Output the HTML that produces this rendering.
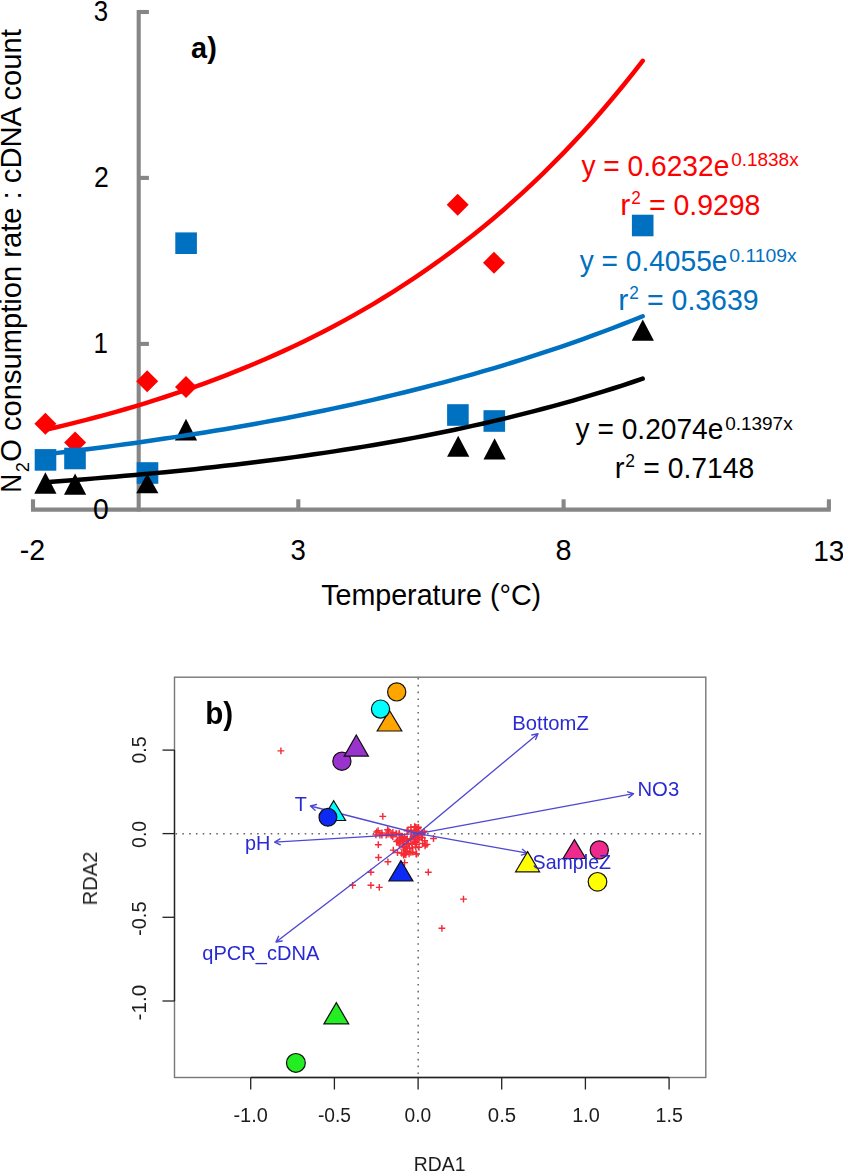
<!DOCTYPE html>
<html><head><meta charset="utf-8"><title>Figure</title>
<style>html,body{margin:0;padding:0;background:#fff;}svg{display:block}</style></head>
<body><svg width="843" height="1171" viewBox="0 0 843 1171" style='font-family:"Liberation Sans", sans-serif'>
<defs><filter id="soft" x="-5%" y="-5%" width="110%" height="110%"><feGaussianBlur stdDeviation="0.45"/></filter></defs>
<rect width="843" height="1171" fill="#fff"/>
<g stroke="#868686" stroke-width="4.1" fill="none" stroke-linecap="butt">
<line x1="138.7" y1="10" x2="138.7" y2="511.6"/>
<line x1="31" y1="509.6" x2="830.8" y2="509.6"/>
<line x1="138.7" y1="12.0" x2="148.9" y2="12.0"/>
<line x1="138.7" y1="177.9" x2="148.9" y2="177.9"/>
<line x1="138.7" y1="343.9" x2="148.9" y2="343.9"/>
<line x1="33.0" y1="509.6" x2="33.0" y2="499.3"/>
<line x1="298.3" y1="509.6" x2="298.3" y2="499.3"/>
<line x1="563.6" y1="509.6" x2="563.6" y2="499.3"/>
<line x1="828.9" y1="509.6" x2="828.9" y2="499.3"/>
</g>
<g fill="#FF0000">
<path d="M45.4 412.7L56.4 423.7L45.4 434.7L34.4 423.7Z"/>
<path d="M75.1 431.6L86.1 442.6L75.1 453.6L64.1 442.6Z"/>
<path d="M147.2 370.3L158.2 381.3L147.2 392.3L136.2 381.3Z"/>
<path d="M186.0 375.9L197.0 386.9L186.0 397.9L175.0 386.9Z"/>
<path d="M457.7 193.8L468.7 204.8L457.7 215.8L446.7 204.8Z"/>
<path d="M494.0 251.7L505.0 262.7L494.0 273.7L483.0 262.7Z"/>
</g>
<g fill="#0070C0">
<rect x="34.7" y="449.1" width="21.6" height="21.6"/>
<rect x="64.2" y="447.7" width="21.6" height="21.6"/>
<rect x="136.7" y="462.2" width="21.6" height="21.6"/>
<rect x="175.3" y="232.4" width="21.6" height="21.6"/>
<rect x="447.1" y="404.2" width="21.6" height="21.6"/>
<rect x="483.5" y="410.2" width="21.6" height="21.6"/>
<rect x="631.9" y="214.7" width="21.6" height="21.6"/>
</g>
<g fill="#000000">
<path d="M45.4 472.3L56.5 493.7L34.3 493.7Z"/>
<path d="M75.1 473.5L86.2 494.7L64.0 494.7Z"/>
<path d="M147.3 473.4L158.4 493.3L136.2 493.3Z"/>
<path d="M186.0 418.8L197.1 440.4L174.9 440.4Z"/>
<path d="M458.2 435.7L469.3 456.7L447.1 456.7Z"/>
<path d="M494.6 438.2L505.7 459.5L483.5 459.5Z"/>
<path d="M642.8 319.4L653.9 340.7L631.7 340.7Z"/>
</g>
<g fill="none" stroke-width="4.5" stroke-linecap="round" stroke-linejoin="round">
<path stroke="#FF0000" d="M45.40 429.81L55.36 427.49L65.31 425.10L75.27 422.64L85.22 420.11L95.18 417.51L105.13 414.83L115.09 412.07L125.04 409.23L135.00 406.30L144.95 403.29L154.91 400.19L164.86 397.00L174.82 393.72L184.77 390.34L194.73 386.87L204.68 383.29L214.64 379.60L224.59 375.81L234.55 371.91L244.50 367.89L254.46 363.75L264.41 359.49L274.37 355.11L284.32 350.60L294.28 345.96L304.23 341.18L314.19 336.26L324.14 331.20L334.09 325.99L344.05 320.63L354.01 315.10L363.96 309.42L373.92 303.57L383.87 297.55L393.83 291.35L403.78 284.97L413.74 278.41L423.69 271.65L433.65 264.69L443.60 257.53L453.56 250.16L463.51 242.58L473.46 234.77L483.42 226.73L493.38 218.46L503.33 209.94L513.29 201.18L523.24 192.16L533.20 182.87L543.15 173.31L553.11 163.47L563.06 153.35L573.02 142.92L582.97 132.19L592.93 121.15L602.88 109.78L612.84 98.08L622.79 86.04L632.75 73.64L642.70 60.88"/>
<path stroke="#0070C0" d="M45.40 454.28L55.36 453.12L65.31 451.93L75.27 450.72L85.22 449.48L95.18 448.22L105.13 446.93L115.09 445.62L125.04 444.27L135.00 442.90L144.95 441.50L154.91 440.07L164.86 438.60L174.82 437.11L184.77 435.59L194.73 434.03L204.68 432.44L214.64 430.81L224.59 429.16L234.55 427.46L244.50 425.73L254.46 423.97L264.41 422.16L274.37 420.32L284.32 418.44L294.28 416.52L304.23 414.56L314.19 412.56L324.14 410.51L334.09 408.42L344.05 406.29L354.01 404.11L363.96 401.89L373.92 399.61L383.87 397.29L393.83 394.93L403.78 392.51L413.74 390.04L423.69 387.51L433.65 384.94L443.60 382.30L453.56 379.62L463.51 376.87L473.46 374.07L483.42 371.21L493.38 368.29L503.33 365.30L513.29 362.25L523.24 359.14L533.20 355.96L543.15 352.72L553.11 349.40L563.06 346.02L573.02 342.56L582.97 339.03L592.93 335.43L602.88 331.75L612.84 327.99L622.79 324.15L632.75 320.23L642.70 316.22"/>
<path stroke="#000000" d="M45.40 482.15L55.36 481.43L65.31 480.70L75.27 479.94L85.22 479.16L95.18 478.37L105.13 477.55L115.09 476.71L125.04 475.85L135.00 474.97L144.95 474.06L154.91 473.12L164.86 472.17L174.82 471.18L184.77 470.18L194.73 469.14L204.68 468.08L214.64 466.98L224.59 465.86L234.55 464.71L244.50 463.53L254.46 462.32L264.41 461.07L274.37 459.79L284.32 458.48L294.28 457.13L304.23 455.74L314.19 454.32L324.14 452.86L334.09 451.37L344.05 449.83L354.01 448.25L363.96 446.63L373.92 444.96L383.87 443.25L393.83 441.50L403.78 439.70L413.74 437.85L423.69 435.95L433.65 434.00L443.60 432.00L453.56 429.94L463.51 427.83L473.46 425.67L483.42 423.44L493.38 421.16L503.33 418.82L513.29 416.41L523.24 413.94L533.20 411.40L543.15 408.80L553.11 406.12L563.06 403.38L573.02 400.56L582.97 397.67L592.93 394.69L602.88 391.64L612.84 388.51L622.79 385.30L632.75 382.00L642.70 378.61"/>
</g>
<g filter="url(#soft)">
<rect x="174.5" y="677.2" width="531.3" height="400.3" fill="none" stroke="#777" stroke-width="1.4"/>
<g stroke="#222" stroke-width="1.3" fill="none">
<line x1="250.7" y1="1077.5" x2="669.1" y2="1077.5"/>
<line x1="174.5" y1="750.1" x2="174.5" y2="1001"/>
<line x1="250.7" y1="1077.5" x2="250.7" y2="1089.5"/>
<line x1="334.4" y1="1077.5" x2="334.4" y2="1089.5"/>
<line x1="418.1" y1="1077.5" x2="418.1" y2="1089.5"/>
<line x1="501.7" y1="1077.5" x2="501.7" y2="1089.5"/>
<line x1="585.4" y1="1077.5" x2="585.4" y2="1089.5"/>
<line x1="669.1" y1="1077.5" x2="669.1" y2="1089.5"/>
<line x1="174.5" y1="750.1" x2="162.5" y2="750.1"/>
<line x1="174.5" y1="833.6" x2="162.5" y2="833.6"/>
<line x1="174.5" y1="917.3" x2="162.5" y2="917.3"/>
<line x1="174.5" y1="1001.0" x2="162.5" y2="1001.0"/>
</g>
<g stroke="#666" stroke-width="1.5" fill="none" stroke-dasharray="1.6 5.2">
<line x1="175.5" y1="833.8" x2="705.5" y2="833.8"/>
<line x1="418.2" y1="678" x2="418.2" y2="1077"/>
</g>
<g stroke="#F42A36" stroke-width="1.4" fill="none">
<path d="M277.5 750.9H284.3M280.9 747.5V754.3"/>
<path d="M379.4 816.4H386.2M382.8 813.0V819.8"/>
<path d="M367.5 872.2H374.3M370.9 868.8V875.6"/>
<path d="M349.2 885.3H356.0M352.6 881.9V888.7"/>
<path d="M367.5 885.3H374.3M370.9 881.9V888.7"/>
<path d="M375.9 887.4H382.7M379.3 884.0V890.8"/>
<path d="M424.9 872.2H431.7M428.3 868.8V875.6"/>
<path d="M460.1 899.1H466.9M463.5 895.7V902.5"/>
<path d="M438.5 928.3H445.3M441.9 924.9V931.7"/>
<path d="M384.5 861.8H391.3M387.9 858.4V865.2"/>
<path d="M375.1 857.5H381.9M378.5 854.1V860.9"/>
<path d="M374.9 844.7H381.7M378.3 841.3V848.1"/>
<path d="M430.1 838.5H436.9M433.5 835.1V841.9"/>
<path d="M413.2 854.0H420.0M416.6 850.6V857.4"/>
<path d="M401.2 862.6H408.0M404.6 859.2V866.0"/>
<path d="M400.2 855.0H407.0M403.6 851.6V858.4"/>
<path d="M374.7 830.7H381.5M378.1 827.3V834.1"/>
<path d="M372.5 834.9H379.3M375.9 831.5V838.3"/>
<path d="M378.5 833.0H385.3M381.9 829.6V836.4"/>
<path d="M384.2 829.7H391.0M387.6 826.3V833.1"/>
<path d="M384.6 834.0H391.4M388.0 830.6V837.4"/>
<path d="M388.9 834.9H395.7M392.3 831.5V838.3"/>
<path d="M393.2 834.0H400.0M396.6 830.6V837.4"/>
<path d="M396.0 834.5H402.8M399.4 831.1V837.9"/>
<path d="M389.4 836.8H396.2M392.8 833.4V840.2"/>
<path d="M389.9 850.1H396.7M393.3 846.7V853.5"/>
<path d="M393.2 841.6H400.0M396.6 838.2V845.0"/>
<path d="M396.0 843.5H402.8M399.4 840.1V846.9"/>
<path d="M399.8 841.6H406.6M403.2 838.2V845.0"/>
<path d="M394.1 852.5H400.9M397.5 849.1V855.9"/>
<path d="M400.8 854.4H407.6M404.2 851.0V857.8"/>
<path d="M404.6 843.5H411.4M408.0 840.1V846.9"/>
<path d="M404.6 830.2H411.4M408.0 826.8V833.6"/>
<path d="M397.4 837.8H404.2M400.8 834.4V841.2"/>
<path d="M402.6 851.0H409.4M406.0 847.6V854.4"/>
<path d="M407.5 827.3H414.3M410.9 823.9V830.7"/>
<path d="M415.1 827.3H421.9M418.5 823.9V830.7"/>
<path d="M410.8 830.2H417.6M414.2 826.8V833.6"/>
<path d="M403.7 830.7H410.5M407.1 827.3V834.1"/>
<path d="M414.6 834.9H421.4M418.0 831.5V838.3"/>
<path d="M418.0 837.3H424.8M421.4 833.9V840.7"/>
<path d="M415.6 839.7H422.4M419.0 836.3V843.1"/>
<path d="M412.3 841.6H419.1M415.7 838.2V845.0"/>
<path d="M408.5 843.5H415.3M411.9 840.1V846.9"/>
<path d="M406.1 848.2H412.9M409.5 844.8V851.6"/>
<path d="M401.3 853.9H408.1M404.7 850.5V857.3"/>
<path d="M412.7 853.9H419.5M416.1 850.5V857.3"/>
<path d="M421.7 845.8H428.5M425.1 842.4V849.2"/>
<path d="M423.6 844.4H430.4M427.0 841.0V847.8"/>
<path d="M419.4 843.5H426.2M422.8 840.1V846.9"/>
<path d="M415.6 847.3H422.4M419.0 843.9V850.7"/>
<path d="M421.3 840.6H428.1M424.7 837.2V844.0"/>
<path d="M399.4 841.6H406.2M402.8 838.2V845.0"/>
<path d="M399.0 836.4H405.8M402.4 833.0V839.8"/>
<path d="M403.7 838.7H410.5M407.1 835.3V842.1"/>
<path d="M409.9 837.3H416.7M413.3 833.9V840.7"/>
<path d="M418.9 833.0H425.7M422.3 829.6V836.4"/>
<path d="M422.1 844.6H428.9M425.5 841.2V848.0"/>
<path d="M396.1 845.1H402.9M399.5 841.7V848.5"/>
<path d="M401.4 847.3H408.2M404.8 843.9V850.7"/>
<path d="M411.6 827.4H418.4M415.0 824.0V830.8"/>
<path d="M412.2 830.6H419.0M415.6 827.2V834.0"/>
<path d="M407.5 852.4H414.3M410.9 849.0V855.8"/>
<path d="M413.5 827.4H420.3M416.9 824.0V830.8"/>
<path d="M402.4 854.6H409.2M405.8 851.2V858.0"/>
<path d="M411.7 836.1H418.5M415.1 832.7V839.5"/>
<path d="M406.9 839.3H413.7M410.3 835.9V842.7"/>
<path d="M400.6 846.6H407.4M404.0 843.2V850.0"/>
<path d="M413.5 831.0H420.3M416.9 827.6V834.4"/>
<path d="M415.2 832.8H422.0M418.6 829.4V836.2"/>
<path d="M398.4 853.4H405.2M401.8 850.0V856.8"/>
<path d="M411.2 826.7H418.0M414.6 823.3V830.1"/>
<path d="M415.3 837.2H422.1M418.7 833.8V840.6"/>
<path d="M394.5 840.1H401.3M397.9 836.7V843.5"/>
<path d="M411.0 830.8H417.8M414.4 827.4V834.2"/>
<path d="M405.0 844.2H411.8M408.4 840.8V847.6"/>
<path d="M412.4 847.0H419.2M415.8 843.6V850.4"/>
<path d="M409.0 847.9H415.8M412.4 844.5V851.3"/>
<path d="M403.8 851.7H410.6M407.2 848.3V855.1"/>
<path d="M403.2 846.5H410.0M406.6 843.1V849.9"/>
<path d="M411.9 827.2H418.7M415.3 823.8V830.6"/>
<path d="M411.7 842.3H418.5M415.1 838.9V845.7"/>
<path d="M413.8 838.0H420.6M417.2 834.6V841.4"/>
<path d="M396.6 841.9H403.4M400.0 838.5V845.3"/>
<path d="M410.3 836.8H417.1M413.7 833.4V840.2"/>
<path d="M401.2 836.6H408.0M404.6 833.2V840.0"/>
<path d="M401.4 847.0H408.2M404.8 843.6V850.4"/>
<path d="M398.6 839.0H405.4M402.0 835.6V842.4"/>
<path d="M409.4 852.2H416.2M412.8 848.8V855.6"/>
<path d="M418.8 833.8H425.6M422.2 830.4V837.2"/>
<path d="M394.1 841.1H400.9M397.5 837.7V844.5"/>
<path d="M414.5 828.8H421.3M417.9 825.4V832.2"/>
<path d="M399.5 837.3H406.3M402.9 833.9V840.7"/>
<path d="M420.8 831.3H427.6M424.2 827.9V834.7"/>
<path d="M400.1 849.1H406.9M403.5 845.7V852.5"/>
<path d="M407.8 832.1H414.6M411.2 828.7V835.5"/>
<path d="M418.9 837.8H425.7M422.3 834.4V841.2"/>
<path d="M418.4 835.0H425.2M421.8 831.6V838.4"/>
<path d="M400.5 840.4H407.3M403.9 837.0V843.8"/>
<path d="M403.4 840.2H410.2M406.8 836.8V843.6"/>
<path d="M413.1 844.2H419.9M416.5 840.8V847.6"/>
<path d="M398.2 837.6H405.0M401.6 834.2V841.0"/>
<path d="M410.1 835.6H416.9M413.5 832.2V839.0"/>
<path d="M413.1 844.4H419.9M416.5 841.0V847.8"/>
<path d="M411.1 837.6H417.9M414.5 834.2V841.0"/>
<path d="M405.7 853.9H412.5M409.1 850.5V857.3"/>
<path d="M373.3 832.0H380.1M376.7 828.6V835.4"/>
<path d="M376.5 835.1H383.3M379.9 831.7V838.5"/>
<path d="M378.5 835.0H385.3M381.9 831.6V838.4"/>
<path d="M382.8 835.0H389.6M386.2 831.6V838.4"/>
<path d="M385.4 831.0H392.2M388.8 827.6V834.4"/>
<path d="M387.9 835.3H394.7M391.3 831.9V838.7"/>
<path d="M389.5 832.4H396.3M392.9 829.0V835.8"/>
<path d="M392.7 833.6H399.5M396.1 830.2V837.0"/>
<path d="M395.8 833.4H402.6M399.2 830.0V836.8"/>
</g>
<g stroke="#4e48d2" stroke-width="1.35" fill="none" stroke-linecap="round" stroke-linejoin="round">
<path d="M418.2 833.6L310.4 806.0M315.1 810.2L310.4 806.0L316.5 804.5"/>
<path d="M418.2 833.6L274.6 842.2M280.3 844.8L274.6 842.2L280.0 838.9"/>
<path d="M418.2 833.6L276.0 942.0M282.2 941.0L276.0 942.0L278.6 936.3"/>
<path d="M418.2 833.6L538.0 733.7M531.8 735.0L538.0 733.7L535.6 739.5"/>
<path d="M418.2 833.6L633.6 793.7M627.6 791.8L633.6 793.7L628.7 797.6"/>
<path d="M418.2 833.6L527.4 853.2M522.4 849.3L527.4 853.2L521.4 855.1"/>
</g>
<g stroke="#111" stroke-width="1.2" stroke-linejoin="miter">
<circle cx="396.7" cy="691.9" r="9.1" fill="#FFA500"/>
<path d="M389.5 710.5L401.8 731.0L377.2 731.0Z" fill="#FFA500"/>
<circle cx="380.5" cy="709.1" r="9.1" fill="#00FFFF"/>
<circle cx="341.9" cy="761.2" r="9.1" fill="#9A32CD"/>
<path d="M356.3 735.0L368.4 756.1L344.2 756.1Z" fill="#9A32CD"/>
<path d="M333.7 800.7L345.6 820.5L321.8 820.5Z" fill="#00FFFF"/>
<circle cx="327.9" cy="817.3" r="8.9" fill="#0A2AF5"/>
<path d="M400.9 860.6L412.9 881.0L388.9 881.0Z" fill="#0A2AF5"/>
<path d="M527.6 851.6L539.6 871.8L515.6 871.8Z" fill="#FFFF00"/>
<path d="M574.4 839.6L585.7 858.5L563.1 858.5Z" fill="#EE2A8C"/>
<circle cx="599.3" cy="849.9" r="9.1" fill="#EE2A8C"/>
<circle cx="597.5" cy="881.8" r="9.3" fill="#FFFF00"/>
<path d="M336.3 1002.6L348.7 1023.9L323.9 1023.9Z" fill="#22EE22"/>
<circle cx="295.9" cy="1062.9" r="9.4" fill="#22EE22"/>
</g>
<text x="205.23" y="724.00" font-weight="bold" font-size="31.5" textLength="27.94" lengthAdjust="spacingAndGlyphs" fill="#000000">b)</text>
<text transform="translate(145.90,763.48) rotate(-90)" font-size="20" textLength="26.86" lengthAdjust="spacingAndGlyphs" fill="#1e1e1e">0.5</text>
<text transform="translate(145.90,847.88) rotate(-90)" font-size="20" textLength="27.03" lengthAdjust="spacingAndGlyphs" fill="#1e1e1e">0.0</text>
<text transform="translate(145.90,935.96) rotate(-90)" font-size="20" textLength="34.49" lengthAdjust="spacingAndGlyphs" fill="#1e1e1e">-0.5</text>
<text transform="translate(145.90,1020.38) rotate(-90)" font-size="20" textLength="35.53" lengthAdjust="spacingAndGlyphs" fill="#1e1e1e">-1.0</text>
<text transform="translate(97.00,905.32) rotate(-90)" font-size="20" textLength="53.56" lengthAdjust="spacingAndGlyphs" fill="#1e1e1e">RDA2</text>
<text x="233.47" y="1122.40" font-size="20" textLength="34.34" lengthAdjust="spacingAndGlyphs" fill="#1e1e1e">-1.0</text>
<text x="317.90" y="1122.40" font-size="20" textLength="33.10" lengthAdjust="spacingAndGlyphs" fill="#1e1e1e">-0.5</text>
<text x="404.57" y="1122.40" font-size="20" textLength="26.65" lengthAdjust="spacingAndGlyphs" fill="#1e1e1e">0.0</text>
<text x="487.83" y="1122.40" font-size="20" textLength="28.34" lengthAdjust="spacingAndGlyphs" fill="#1e1e1e">0.5</text>
<text x="572.29" y="1122.40" font-size="20" textLength="27.64" lengthAdjust="spacingAndGlyphs" fill="#1e1e1e">1.0</text>
<text x="655.55" y="1122.40" font-size="20" textLength="27.33" lengthAdjust="spacingAndGlyphs" fill="#1e1e1e">1.5</text>
<text x="413.85" y="1170.70" font-size="20" textLength="51.66" lengthAdjust="spacingAndGlyphs" fill="#1e1e1e">RDA1</text>
<text x="294.80" y="811.30" font-size="20.4" textLength="12.10" lengthAdjust="spacingAndGlyphs" fill="#2a2ad2">T</text>
<text x="245.03" y="849.60" font-size="20.4" textLength="25.34" lengthAdjust="spacingAndGlyphs" fill="#2a2ad2">pH</text>
<text x="202.35" y="959.70" font-size="20.4" textLength="117.01" lengthAdjust="spacingAndGlyphs" fill="#2a2ad2">qPCR_cDNA</text>
<text x="512.34" y="730.40" font-size="20.4" textLength="76.41" lengthAdjust="spacingAndGlyphs" fill="#2a2ad2">BottomZ</text>
<text x="637.48" y="796.00" font-size="20.4" textLength="41.70" lengthAdjust="spacingAndGlyphs" fill="#2a2ad2">NO3</text>
<text x="532.55" y="868.50" font-size="20.4" textLength="78.47" lengthAdjust="spacingAndGlyphs" fill="#2a2ad2">SampleZ</text>
</g>
<text x="93.67" y="21.00" font-size="29.5" textLength="14.39" lengthAdjust="spacingAndGlyphs" fill="#000000">3</text>
<text x="93.89" y="186.90" font-size="29.5" textLength="14.82" lengthAdjust="spacingAndGlyphs" fill="#000000">2</text>
<text x="93.50" y="353.10" font-size="29.5" textLength="14.44" lengthAdjust="spacingAndGlyphs" fill="#000000">1</text>
<text x="92.95" y="518.80" font-size="29.5" textLength="15.76" lengthAdjust="spacingAndGlyphs" fill="#000000">0</text>
<text x="19.74" y="560.40" font-size="29.5" textLength="25.36" lengthAdjust="spacingAndGlyphs" fill="#000000">-2</text>
<text x="290.58" y="560.20" font-size="29.5" textLength="15.34" lengthAdjust="spacingAndGlyphs" fill="#000000">3</text>
<text x="555.51" y="560.40" font-size="29.5" textLength="16.06" lengthAdjust="spacingAndGlyphs" fill="#000000">8</text>
<text x="813.20" y="560.50" font-size="29.5" textLength="31.20" lengthAdjust="spacingAndGlyphs" fill="#000000">13</text>
<text x="321.13" y="605.30" font-size="29.5" textLength="220.05" lengthAdjust="spacingAndGlyphs" fill="#000000">Temperature (°C)</text>
<text transform="translate(21.00,492.65) rotate(-90)" font-size="29.5" textLength="18.80" lengthAdjust="spacingAndGlyphs" fill="#000000">N</text>
<text transform="translate(28.90,472.20) rotate(-90)" font-size="19" textLength="10.06" lengthAdjust="spacingAndGlyphs" fill="#000000">2</text>
<text transform="translate(21.00,461.84) rotate(-90)" font-size="29.5" textLength="432.58" lengthAdjust="spacingAndGlyphs" fill="#000000">O consumption rate : cDNA count</text>
<text x="191.12" y="58.00" font-weight="bold" font-size="30.4" textLength="25.66" lengthAdjust="spacingAndGlyphs" fill="#000000">a)</text>
<text x="581.39" y="175.60" font-size="29.5" textLength="147.92" lengthAdjust="spacingAndGlyphs" fill="#FF0000">y = 0.6232e</text>
<text x="731.13" y="166.10" font-size="19" textLength="67.54" lengthAdjust="spacingAndGlyphs" fill="#FF0000">0.1838x</text>
<text x="620.29" y="214.60" font-size="29.5" textLength="10.12" lengthAdjust="spacingAndGlyphs" fill="#FF0000">r</text>
<text x="631.20" y="203.60" font-size="18" textLength="9.57" lengthAdjust="spacingAndGlyphs" fill="#FF0000">2</text>
<text x="648.90" y="214.60" font-size="29.5" textLength="111.56" lengthAdjust="spacingAndGlyphs" fill="#FF0000">= 0.9298</text>
<text x="579.66" y="271.30" font-size="29.5" textLength="147.79" lengthAdjust="spacingAndGlyphs" fill="#0070C0">y = 0.4055e</text>
<text x="729.34" y="262.10" font-size="19" textLength="67.43" lengthAdjust="spacingAndGlyphs" fill="#0070C0">0.1109x</text>
<text x="618.29" y="310.40" font-size="29.5" textLength="10.12" lengthAdjust="spacingAndGlyphs" fill="#0070C0">r</text>
<text x="629.20" y="299.40" font-size="18" textLength="9.57" lengthAdjust="spacingAndGlyphs" fill="#0070C0">2</text>
<text x="647.03" y="310.40" font-size="29.5" textLength="111.61" lengthAdjust="spacingAndGlyphs" fill="#0070C0">= 0.3639</text>
<text x="575.58" y="439.40" font-size="29.5" textLength="147.85" lengthAdjust="spacingAndGlyphs" fill="#000000">y = 0.2074e</text>
<text x="725.13" y="429.90" font-size="19" textLength="67.54" lengthAdjust="spacingAndGlyphs" fill="#000000">0.1397x</text>
<text x="614.81" y="478.20" font-size="29.5" textLength="9.81" lengthAdjust="spacingAndGlyphs" fill="#000000">r</text>
<text x="625.37" y="467.20" font-size="18" textLength="9.70" lengthAdjust="spacingAndGlyphs" fill="#000000">2</text>
<text x="643.33" y="478.20" font-size="29.5" textLength="111.00" lengthAdjust="spacingAndGlyphs" fill="#000000">= 0.7148</text>
</svg></body></html>
